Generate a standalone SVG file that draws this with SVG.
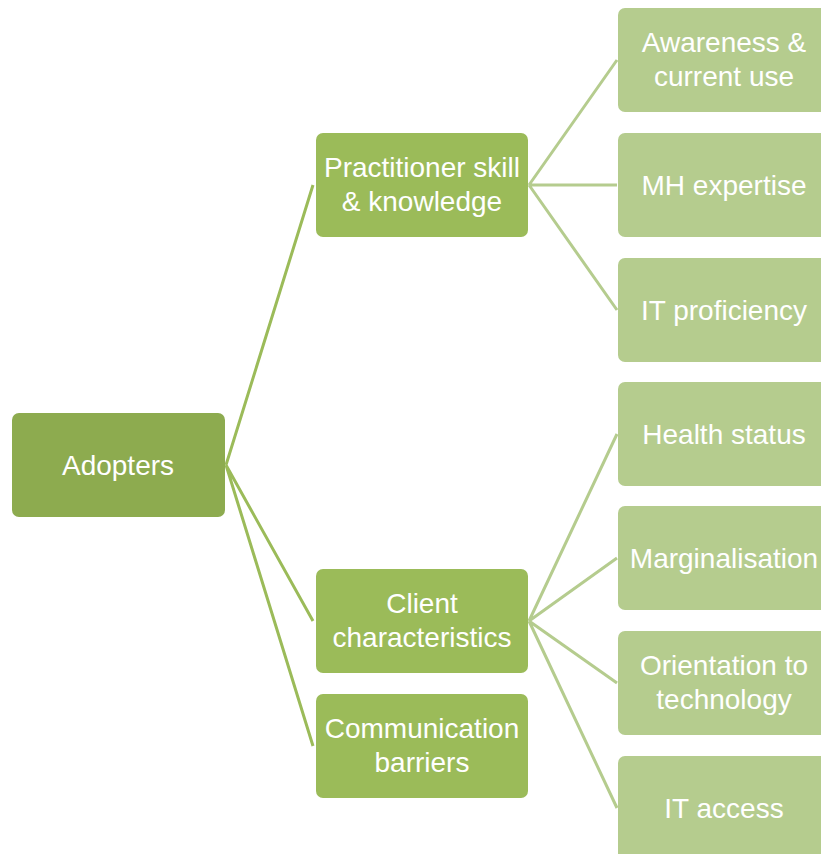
<svg xmlns="http://www.w3.org/2000/svg" width="821" height="854" viewBox="0 0 821 854">
<style>
.t{font-family:"Liberation Sans",Arial,sans-serif;font-size:28px;fill:#ffffff;text-anchor:middle;dominant-baseline:central}
.l1{fill:#8dab4f}
.l2{fill:#9bbb59}
.l3{fill:#b5cc8e}
.c1{stroke:#9bbb59;stroke-width:3;fill:none}
.c2{stroke:#b5cc8e;stroke-width:3;fill:none}
</style>
<rect width="821" height="854" fill="#ffffff"/>
<g id="connectors">
<path class="c1" d="M226 465 L313 185 M226 465 L313 621 M226 465 L313 746"/>
<path class="c2" d="M529 185 L617 60 M529 185 L617 185 M529 185 L617 310"/>
<path class="c2" d="M529 621 L617 434 M529 621 L617 558 M529 621 L617 683 M529 621 L617 808"/>
</g>
<g id="adopters"><rect class="l1" x="12" y="413" width="213" height="104" rx="7"/><text class="t" x="118" y="465">Adopters</text></g>
<g id="practitioner"><rect class="l2" x="316" y="133" width="212" height="104" rx="7"/><text class="t" x="422" y="167">Practitioner skill</text><text class="t" x="422" y="201">&amp; knowledge</text></g>
<g id="client"><rect class="l2" x="316" y="569" width="212" height="104" rx="7"/><text class="t" x="422" y="603">Client</text><text class="t" x="422" y="637">characteristics</text></g>
<g id="communication"><rect class="l2" x="316" y="694" width="212" height="104" rx="7"/><text class="t" x="422" y="728">Communication</text><text class="t" x="422" y="762">barriers</text></g>
<g id="awareness"><rect class="l3" x="618" y="8" width="212" height="104" rx="7"/><text class="t" x="724" y="42">Awareness &amp;</text><text class="t" x="724" y="76">current use</text></g>
<g id="mh"><rect class="l3" x="618" y="133" width="212" height="104" rx="7"/><text class="t" x="724" y="185">MH expertise</text></g>
<g id="it-proficiency"><rect class="l3" x="618" y="258" width="212" height="104" rx="7"/><text class="t" x="724" y="310">IT proficiency</text></g>
<g id="health"><rect class="l3" x="618" y="382" width="212" height="104" rx="7"/><text class="t" x="724" y="434">Health status</text></g>
<g id="marginalisation"><rect class="l3" x="618" y="506" width="212" height="104" rx="7"/><text class="t" x="724" y="558">Marginalisation</text></g>
<g id="orientation"><rect class="l3" x="618" y="631" width="212" height="104" rx="7"/><text class="t" x="724" y="665">Orientation to</text><text class="t" x="724" y="699">technology</text></g>
<g id="it-access"><rect class="l3" x="618" y="756" width="212" height="104" rx="7"/><text class="t" x="724" y="808">IT access</text></g>
</svg>
